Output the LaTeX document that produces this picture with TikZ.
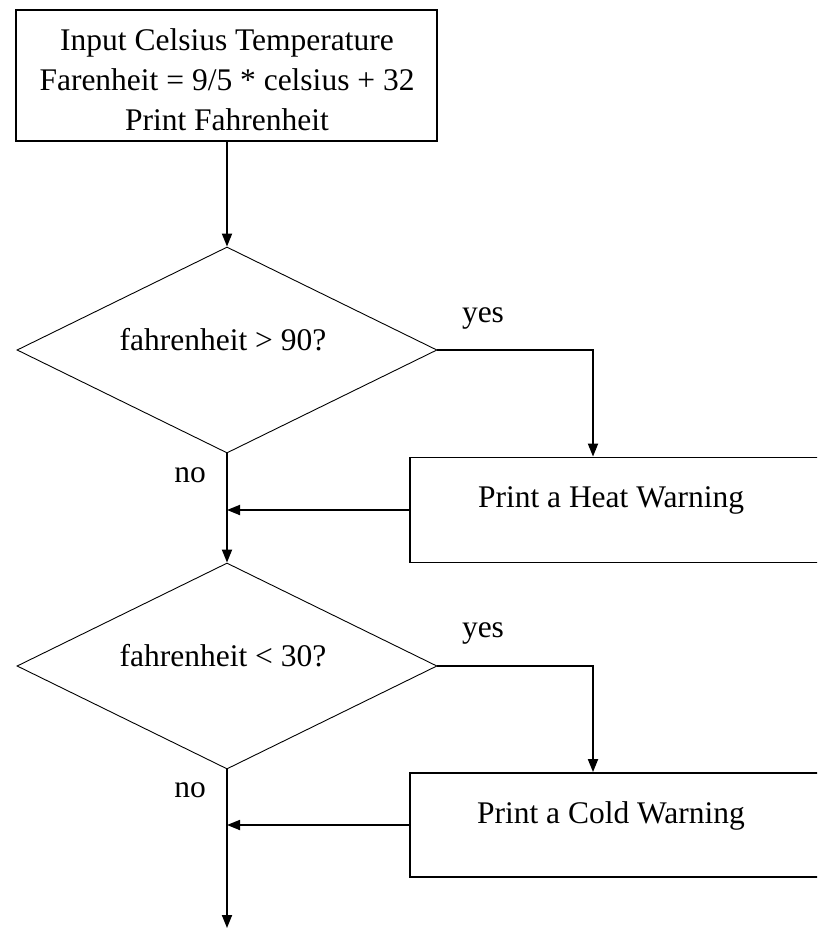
\documentclass[tikz,border=0pt]{standalone}
\usepackage{fontspec}
\setmainfont{Liberation Serif}
\usetikzlibrary{shapes.geometric,arrows.meta}
\begin{document}
\begin{tikzpicture}[x=1pt,y=-1pt,
  txt/.style={font=\fontsize{31.5pt}{40pt}\selectfont, inner sep=0pt},
  procbox/.style={draw, line width=1.8pt, rectangle, inner sep=0pt},
  decision/.style={draw, line width=0.9pt, diamond, aspect=2.04, inner sep=0pt,
    minimum width=420pt, minimum height=206pt},
  conn/.style={line width=1.8pt, -{Triangle[length=13pt,width=10pt]}}
]
\useasboundingbox (0,0) rectangle (817,928);
\clip (0,0) rectangle (817,928);

% top process box
\node[procbox, minimum width=421pt, minimum height=131pt] (input) at (226.5,75.5) {};
\node[txt, align=center] (inputtext) at (227,80) {Input Celsius Temperature\\Farenheit = 9/5 * celsius + 32\\Print Fahrenheit};

% decisions
\node[decision] (d1) at (227,350) {};
\node[txt] (d1text) at (223,340) {fahrenheit > 90?};
\node[decision] (d2) at (227,666) {};
\node[txt] (d2text) at (223,656) {fahrenheit < 30?};

% warning boxes
\node[procbox, minimum width=420pt, minimum height=105pt] (heat) at (620,510) {};
\node[txt] (heattext) at (611,500) {Print a Heat Warning};
\node[procbox, minimum width=420pt, minimum height=104pt] (cold) at (620,825) {};
\node[txt] (coldtext) at (611,816) {Print a Cold Warning};

% labels
\node[txt] (yes1) at (483,318) {yes};
\node[txt] (no1) at (190,475) {no};
\node[txt] (yes2) at (483,633) {yes};
\node[txt] (no2) at (190,790) {no};

% helper coordinates
\coordinate (yesx) at (593,0);
\coordinate (mainx) at (227,0);
\coordinate (end) at (227,928);

% connectors
\draw[conn] (mainx |- input.south) -- (d1.north);
\draw[conn] (d1.east) -| (yesx |- heat.north);
\draw[conn] (heat.west) -- (mainx |- heat.west);
\draw[conn] (d1.south) -- (d2.north);
\draw[conn] (d2.east) -| (yesx |- cold.north);
\draw[conn] (cold.west) -- (mainx |- cold.west);
\draw[conn] (d2.south) -- (end);
\end{tikzpicture}
\end{document}
